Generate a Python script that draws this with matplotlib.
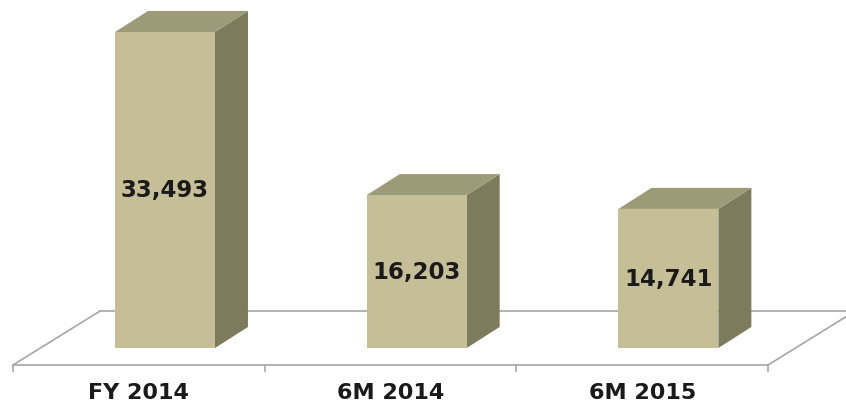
import matplotlib
matplotlib.use('Agg')
import matplotlib.pyplot as plt
from matplotlib.patches import Polygon

# data
categories = ['FY 2014', '6M 2014', '6M 2015']
values = [33493, 16203, 14741]
value_labels = ['33,493', '16,203', '14,741']

# colours
FRONT = '#C5BE97'
TOP = '#9D9A78'
SIDE = '#7E7B5D'
FLOOR = '#A6A6A6'

# geometry (x in category units, y in value units)
bar_shift = 0.104       # front face centre offset from category centre
bar_width = 0.397
depth_dx = 0.131
depth_dy = 2230
floor_front = -1800
floor_back = 3920
floor_dx = 0.346
tick_len = 650

fig = plt.figure(figsize=(8.46, 4.10), dpi=100)
ax = fig.add_axes([0, 0, 1, 1])
ax.set_xlim(-0.5517, 2.8095)
ax.set_ylim(-6466, 36990)
ax.axis('off')

# floor (drawn behind the bars)
n = len(categories)
x0, x1 = -0.5, n - 0.5
kw = dict(color=FLOOR, lw=1.2, zorder=1)
ax.plot([x0, x1], [floor_front, floor_front], **kw)
ax.plot([x0, x0 + floor_dx], [floor_front, floor_back], **kw)
ax.plot([x1, x1 + floor_dx], [floor_front, floor_back], clip_on=False, **kw)
ax.plot([x0 + floor_dx, x1 + floor_dx], [floor_back, floor_back], **kw)
for i in range(n + 1):
    ax.plot([x0 + i, x0 + i], [floor_front, floor_front - tick_len], **kw)

# bars
for i, v in enumerate(values):
    l = i + bar_shift - bar_width / 2
    r = i + bar_shift + bar_width / 2
    front = [(l, 0), (r, 0), (r, v), (l, v)]
    top = [(l, v), (r, v), (r + depth_dx, v + depth_dy), (l + depth_dx, v + depth_dy)]
    side = [(r, 0), (r + depth_dx, depth_dy), (r + depth_dx, v + depth_dy), (r, v)]
    ax.add_patch(Polygon(side, closed=True, facecolor=SIDE, edgecolor='none', zorder=3))
    ax.add_patch(Polygon(top, closed=True, facecolor=TOP, edgecolor='none', zorder=3))
    ax.add_patch(Polygon(front, closed=True, facecolor=FRONT, edgecolor='none', zorder=3))
    ax.text(i + bar_shift, v / 2, value_labels[i], ha='center', va='center', zorder=4,
            fontsize=16.5, fontweight='bold', family='DejaVu Sans', color='#1A1A1A')
    ax.text(i, -4700, categories[i], ha='center', va='center',
            fontsize=16, fontweight='bold', family='DejaVu Sans', color='#1A1A1A')

fig.savefig('out.png', dpi=100)
